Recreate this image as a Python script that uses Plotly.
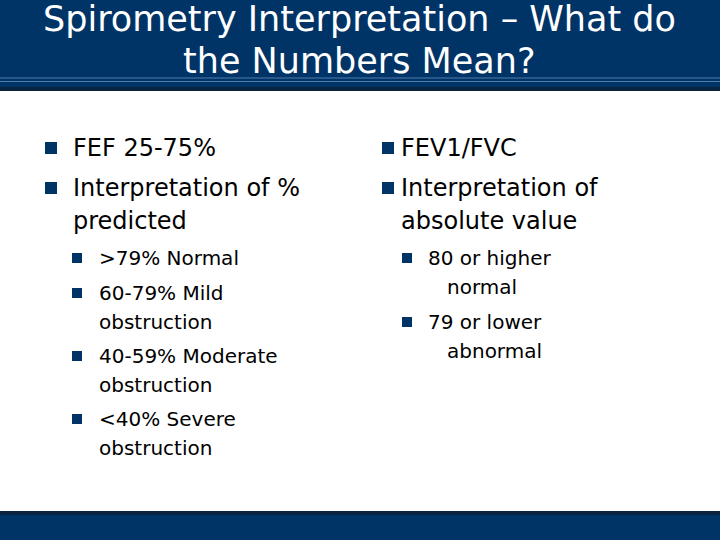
import plotly.graph_objects as go

# slide text
title_lines = ["Spirometry Interpretation – What do", "the Numbers Mean?"]

left_main = ["FEF 25-75%", "Interpretation of %", "predicted"]
left_sub = [">79% Normal", "60-79% Mild", "obstruction", "40-59% Moderate",
            "obstruction", "<40% Severe", "obstruction"]

right_main = ["FEV1/FVC", "Interpretation of", "absolute value"]
right_sub = ["80 or higher", "normal", "79 or lower", "abnormal"]

# layout (pixel coords on a 720x540 slide)
NAVY = '#003366'
FONT = 'DejaVu Sans, sans-serif'

title_y = [19, 61]
main_y = [148, 188, 221]
left_sub_y = [258, 293, 322, 356, 385, 419, 448]
left_sub_bullet = [True, True, False, True, False, True, False]
right_sub_y = [258, 287, 322, 351]
right_sub_bullet = [True, False, True, False]
right_sub_x = [427, 446, 427, 446]

fig = go.Figure()

shapes = [
    # header band
    dict(type='rect', x0=0, x1=720, y0=0, y1=91, fillcolor='#0b2440', line_width=0, layer='below'),
    dict(type='rect', x0=0, x1=720, y0=0, y1=87, fillcolor=NAVY, line_width=0, layer='below'),
    dict(type='line', x0=0, x1=720, y0=78, y1=78, line=dict(color='#4f7fb3', width=1)),
    dict(type='line', x0=0, x1=720, y0=81.5, y1=81.5, line=dict(color='#4f7fb3', width=1)),
    # footer band
    dict(type='rect', x0=0, x1=720, y0=511, y1=540, fillcolor='#0b2440', line_width=0, layer='below'),
    dict(type='rect', x0=0, x1=720, y0=515, y1=540, fillcolor=NAVY, line_width=0, layer='below'),
]

# bullets
bx = [51, 51, 388, 388]
by = [main_y[0], main_y[1], main_y[0], main_y[1]]
fig.add_trace(go.Scatter(x=bx, y=by, mode='markers', hoverinfo='skip',
                         marker=dict(symbol='square', size=12, color=NAVY)))
sx = [77] * sum(left_sub_bullet) + [407] * sum(right_sub_bullet)
sy = [y for y, b in zip(left_sub_y, left_sub_bullet) if b] + \
     [y for y, b in zip(right_sub_y, right_sub_bullet) if b]
fig.add_trace(go.Scatter(x=sx, y=sy, mode='markers', hoverinfo='skip',
                         marker=dict(symbol='square', size=10, color=NAVY)))

ann = []
for t, y in zip(title_lines, title_y):
    ann.append(dict(x=359, y=y, text=t, xanchor='center', yanchor='middle',
                    font=dict(family=FONT, size=35, color='white')))
for t, y in zip(left_main, main_y):
    ann.append(dict(x=71, y=y, text=t, xanchor='left', yanchor='middle',
                    font=dict(family=FONT, size=24, color='black')))
for t, y in zip(right_main, main_y):
    ann.append(dict(x=399, y=y, text=t, xanchor='left', yanchor='middle',
                    font=dict(family=FONT, size=24, color='black')))
for t, y in zip(left_sub, left_sub_y):
    ann.append(dict(x=97, y=y, text=t, xanchor='left', yanchor='middle',
                    font=dict(family=FONT, size=20, color='black')))
for t, y, x in zip(right_sub, right_sub_y, right_sub_x):
    ann.append(dict(x=x - 1, y=y, text=t, xanchor='left', yanchor='middle',
                    font=dict(family=FONT, size=20, color='black')))
for a in ann:
    a.update(xref='x', yref='y', showarrow=False)

fig.update_layout(
    width=720, height=540, margin=dict(l=0, r=0, t=0, b=0),
    paper_bgcolor='white', plot_bgcolor='white', showlegend=False,
    shapes=shapes, annotations=ann,
    xaxis=dict(range=[0, 720], visible=False, fixedrange=True),
    yaxis=dict(range=[540, 0], visible=False, fixedrange=True),
)

fig.write_html("out.html", config={'displayModeBar': False},
               post_script="document.body.style.margin='0';")
